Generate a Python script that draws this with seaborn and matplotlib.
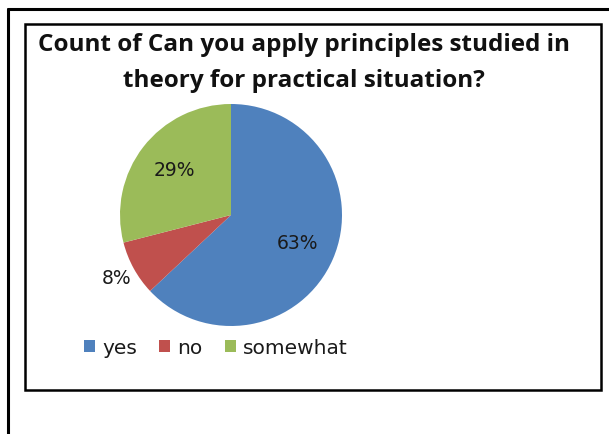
import matplotlib
matplotlib.use("Agg")
import numpy as np
import matplotlib.pyplot as plt
import seaborn as sns
from matplotlib.lines import Line2D
from matplotlib.patches import Rectangle

categories = ["yes", "no", "somewhat"]
shares = [63, 8, 29]
colors = ["#4F81BD", "#C0504D", "#9BBB59"]
title = "Count of Can you apply principles studied in\ntheory for practical situation?"

sns.set_theme(style="white")
plt.rcParams['font.family'] = ['DejaVu Sans']

W, H = 609, 434
fig = plt.figure(figsize=(W / 100, H / 100), dpi=100)
fig.patch.set_facecolor("white")

# outer frame (only left and top edges visible) and chart box
fig.add_artist(Line2D([8 / W, 8 / W], [0, 1 - 9 / H], color="black", lw=2.2))
fig.add_artist(Line2D([8 / W, 1], [1 - 9 / H, 1 - 9 / H], color="black", lw=2.2))
fig.add_artist(Rectangle((25 / W, 1 - 390 / H), (601 - 25) / W, (390 - 24) / H,
                         fill=False, edgecolor="black", lw=1.8))

# pie axes: centre (231, 215) px, radius 111 px
cx, cy, r = 231, 215, 111
ax = fig.add_axes([(cx - r) / W, (H - cy - r) / H, 2 * r / W, 2 * r / H])
wedges, texts, autotexts = ax.pie(shares, colors=colors, startangle=90, counterclock=False,
                                  autopct="%d%%", pctdistance=0.65, radius=1,
                                  wedgeprops=dict(linewidth=0, edgecolor="none"),
                                  textprops=dict(fontsize=13.5, color="#1a1a1a"))
# small slice label sits outside
ang = 90 - 360 * (shares[0] + shares[1] / 2) / 100
autotexts[1].set_position((1.18 * np.cos(np.radians(ang)), 1.18 * np.sin(np.radians(ang))))
ax.set_xlim(-1, 1)
ax.set_ylim(-1, 1)
ax.set_aspect("equal")
ax.axis("off")

fig.text(304 / W, 1 - 63 / H, title, ha="center", va="center", fontsize=17.5,
         fontweight="bold", color="#111111", linespacing=1.68, family="Open Sans")

handles = [Rectangle((0, 0), 1, 1, facecolor=c, edgecolor="none") for c in colors]
fig.legend(handles, categories, loc="center", bbox_to_anchor=(216 / W, 1 - 348 / H),
           ncol=3, frameon=False, fontsize=14.5, handlelength=0.55, handleheight=0.55,
           handletextpad=0.35, columnspacing=1.1, labelcolor="#1a1a1a")

fig.savefig("out.png", dpi=100)
